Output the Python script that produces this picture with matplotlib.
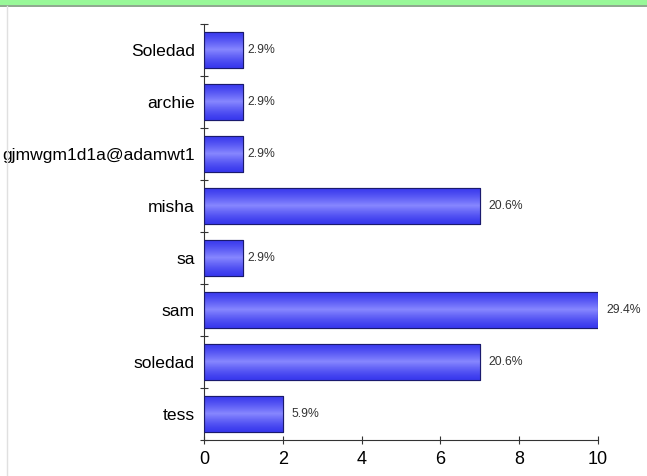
import matplotlib
matplotlib.use("Agg")
import matplotlib.pyplot as plt
import numpy as np
from matplotlib.patches import Rectangle
from matplotlib.lines import Line2D

plt.rcParams['font.family'] = ['Liberation Sans', 'DejaVu Sans']

categories = ["Soledad", "archie", "gjmwgm1d1a@adamwt1", "misha", "sa", "sam", "soledad", "tess"]
values = [1, 1, 1, 7, 1, 10, 7, 2]
pct_labels = ["2.9%", "2.9%", "2.9%", "20.6%", "2.9%", "29.4%", "20.6%", "5.9%"]
x_ticks = [0, 2, 4, 6, 8, 10]

W, H = 647, 476
fig = plt.figure(figsize=(W / 100, H / 100), dpi=100)
fig.patch.set_facecolor("white")

# green header band
fig.add_artist(Rectangle((0, 1 - 5 / H), 1, 5 / H, transform=fig.transFigure,
                         facecolor="#98f898", edgecolor="none", zorder=0))
fig.add_artist(Line2D([0, 1], [1 - 5.5 / H, 1 - 5.5 / H], transform=fig.transFigure,
                      color="#7a9a7a", lw=1.2))
# faint left border
fig.add_artist(Line2D([6.5 / W, 6.5 / W], [0, 1 - 6 / H], transform=fig.transFigure,
                      color="#e0e0e0", lw=1))

x0, x1 = 204, 598
y_top, y_bot = 24, 440
ax = fig.add_axes([x0 / W, 1 - y_bot / H, (x1 - x0) / W, (y_bot - y_top) / H])
ax.set_facecolor("none")

n = len(categories)
ypos = np.arange(n)
bars = ax.barh(ypos, values, height=0.7, color="#4d4dff", edgecolor="#1a1a6e", linewidth=0.8, zorder=2)

# vertical gradient inside each bar
prof = 1 - np.abs(np.linspace(-1, 1, 64))
dark = np.array([0.22, 0.22, 0.93])
light = np.array([0.53, 0.53, 1.0])
img = dark[None, :] + (light - dark)[None, :] * prof[:, None] ** 1.3
img = img[:, None, :]
for b in bars:
    x, y, w, h = b.get_x(), b.get_y(), b.get_width(), b.get_height()
    im = ax.imshow(img, extent=[x, x + w, y + h, y], aspect="auto", zorder=2.5,
                   interpolation="bilinear")
    im.set_clip_path(b)
    ax.add_patch(Rectangle((x, y), w, h, fill=False, edgecolor="#1a1a6e", lw=0.8, zorder=3))

for yy, v, t in zip(ypos, values, pct_labels):
    off = 3 if v < 2 else 6
    ax.annotate(t, (v, yy), xytext=(off, 0), textcoords="offset points",
                va="center", ha="left", fontsize=8.8, color="#333333")

ax.set_xlim(0, 10)
ax.set_ylim(n - 0.5, -0.5)
ax.set_xticks(x_ticks)
ax.set_xticklabels([str(t) for t in x_ticks], fontsize=13)
ax.set_yticks(ypos)
ax.set_yticklabels(categories, fontsize=12.6)
ax.tick_params(axis="y", length=0, pad=6.5)
ax.tick_params(axis="x", length=6, direction="inout", width=0.8, color="#333333", pad=5)
# y boundary ticks
ax.set_yticks(np.arange(-0.5, n, 1), minor=True)
ax.tick_params(axis="y", which="minor", length=6, direction="inout", width=0.8, color="#333333")

for s in ["top", "right"]:
    ax.spines[s].set_visible(False)
ax.spines["left"].set_color("#333333")
ax.spines["bottom"].set_color("#333333")
ax.spines["left"].set_linewidth(0.8)
ax.spines["bottom"].set_linewidth(0.8)

fig.savefig("out.png", dpi=100)
